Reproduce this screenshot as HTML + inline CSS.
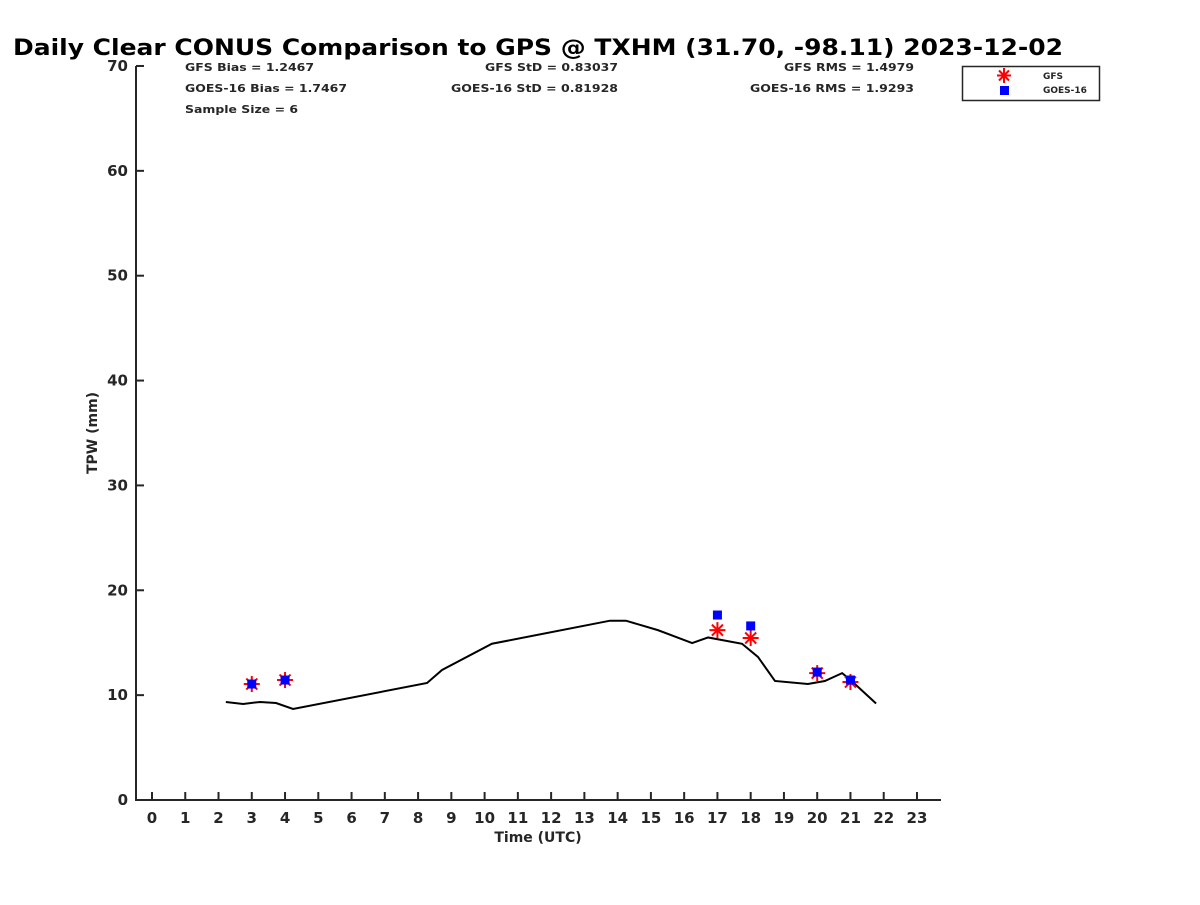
<!DOCTYPE html>
<html><head><meta charset="utf-8"><style>
body{margin:0;background:#fff;}
svg text{font-family:"DejaVu Sans","Liberation Sans",sans-serif;font-weight:bold;fill:#262626;}
</style></head><body>
<svg width="1200" height="900" xmlns="http://www.w3.org/2000/svg">
<rect width="1200" height="900" fill="#fff"/>
<text x="13" y="55" font-size="22" textLength="1050" lengthAdjust="spacingAndGlyphs" style="fill:#000">Daily Clear CONUS Comparison to GPS @ TXHM (31.70, -98.11) 2023-12-02</text>
<g font-size="11">
<text x="185" y="71" textLength="129" lengthAdjust="spacingAndGlyphs">GFS Bias = 1.2467</text>
<text x="185" y="92" textLength="162" lengthAdjust="spacingAndGlyphs">GOES-16 Bias = 1.7467</text>
<text x="185" y="113" textLength="113" lengthAdjust="spacingAndGlyphs">Sample Size = 6</text>
<text x="485" y="71" textLength="133" lengthAdjust="spacingAndGlyphs">GFS StD = 0.83037</text>
<text x="451" y="92" textLength="167" lengthAdjust="spacingAndGlyphs">GOES-16 StD = 0.81928</text>
<text x="784" y="71" textLength="130" lengthAdjust="spacingAndGlyphs">GFS RMS = 1.4979</text>
<text x="750" y="92" textLength="164" lengthAdjust="spacingAndGlyphs">GOES-16 RMS = 1.9293</text>
</g>
<g id="axes"></g>
<g id="plot"></g>
<g>
<rect x="962.5" y="66.5" width="137" height="34" fill="#fff" stroke="#262626" stroke-width="1.5"/>
<g stroke="#f00" stroke-width="2">
<line x1="1004" y1="68" x2="1004" y2="83"/><line x1="997" y1="75.5" x2="1011" y2="75.5"/><line x1="999" y1="70.5" x2="1009" y2="80.5"/><line x1="999" y1="80.5" x2="1009" y2="70.5"/></g>
<rect x="1000" y="86" width="9" height="9" fill="#00f"/>
<text x="1043" y="79" font-size="9">GFS</text>
<text x="1043" y="93" font-size="9">GOES-16</text>
</g>
<text transform="translate(97,433) rotate(-90)" font-size="14" text-anchor="middle">TPW (mm)</text>
<text x="538" y="842" font-size="14" text-anchor="middle">Time (UTC)</text>
</svg>
<script>
const xTicks=[0,1,2,3,4,5,6,7,8,9,10,11,12,13,14,15,16,17,18,19,20,21,22,23];
const yTicks=[0,10,20,30,40,50,60,70];
const gpsHours=[2.22,2.74,3.25,3.73,4.24,8.27,8.72,10.22,13.77,14.25,15.21,16.24,16.72,17.74,18.22,18.73,19.72,20.23,20.75,21.02,21.77];
const gpsTPW=[9.35,9.16,9.35,9.25,8.68,11.16,12.4,14.9,17.1,17.1,16.2,14.97,15.5,14.9,13.64,11.35,11.06,11.35,12.1,11.4,9.2];
const obsHours=[3,4,17,18,20,21];
const gfsTPW=[11.06,11.44,16.2,15.45,12.1,11.25];
const goesTPW=[11.06,11.44,17.64,16.6,12.2,11.44];
const X=h=>152+h*33.26, Y=v=>800-v*10.486;
const NS="http://www.w3.org/2000/svg";
function mk(p,tag,at){const e=document.createElementNS(NS,tag);for(const k in at)e.setAttribute(k,at[k]);p.appendChild(e);return e;}
const ax=document.getElementById('axes'), pl=document.getElementById('plot');
let l=mk(ax,'path',{d:'M136,66 V800 H941',fill:'none',stroke:'#262626','stroke-width':2});


xTicks.forEach(t=>{const x=X(t);
 const tk=mk(ax,'line',{x1:x,x2:x,y1:800,y2:792,stroke:'#262626','stroke-width':2});
 
 
 const tx=mk(ax,'text',{x:x,y:823,'font-size':15,'text-anchor':'middle'});tx.textContent=t;
 
 });
yTicks.forEach(t=>{const y=Y(t);
 const tk=mk(ax,'line',{x1:136,x2:144,y1:y,y2:y,stroke:'#262626','stroke-width':2});
 
 
 const tx=mk(ax,'text',{x:128,y:y+5,'font-size':15,'text-anchor':'end'});tx.textContent=t;
 
 });
const line=mk(pl,'polyline',{points:gpsHours.map((h,i)=>X(h)+','+Y(gpsTPW[i])).join(' '),fill:'none',stroke:'#000','stroke-width':2});


obsHours.forEach((h,i)=>{const x=X(h),y=Y(gfsTPW[i]);
 const g=mk(pl,'g',{stroke:'#f00','stroke-width':2});
 
 
 mk(g,'line',{x1:x,x2:x,y1:y-8,y2:y+8});mk(g,'line',{x1:x-8,x2:x+8,y1:y,y2:y});
 mk(g,'line',{x1:x-5.5,x2:x+5.5,y1:y-5.5,y2:y+5.5});mk(g,'line',{x1:x-5.5,x2:x+5.5,y1:y+5.5,y2:y-5.5});});
obsHours.forEach((h,i)=>{const x=X(h),y=Y(goesTPW[i]);
 const r=mk(pl,'rect',{x:x-4.5,y:y-4.5,width:9,height:9,fill:'#00f'});
 
 });
</script>
</body></html>
